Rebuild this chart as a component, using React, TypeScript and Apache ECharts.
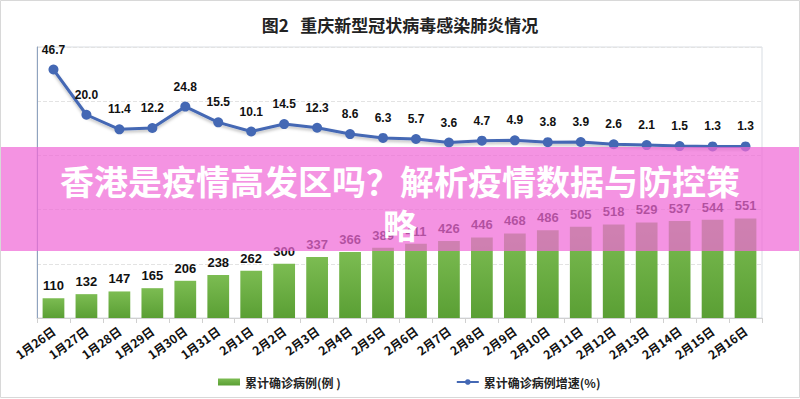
import React, { useEffect, useRef } from "react";
import * as echarts from "echarts";

const categories = [
  "1月26日", "1月27日", "1月28日", "1月29日", "1月30日", "1月31日",
  "2月1日", "2月2日", "2月3日", "2月4日", "2月5日", "2月6日", "2月7日", "2月8日",
  "2月9日", "2月10日", "2月11日", "2月12日", "2月13日", "2月14日", "2月15日", "2月16日",
];
const cumulativeCases = [110, 132, 147, 165, 206, 238, 262, 300, 337, 366, 389, 411, 426, 446, 468, 486, 505, 518, 529, 537, 544, 551];
const growthRate = [46.7, 20.0, 11.4, 12.2, 24.8, 15.5, 10.1, 14.5, 12.3, 8.6, 6.3, 5.7, 3.6, 4.7, 4.9, 3.8, 3.9, 2.6, 2.1, 1.5, 1.3, 1.3];
const seriesNames = ["累计确诊病例(例 )", "累计确诊病例增速(%)"];
const chartTitle = "图2   重庆新型冠状病毒感染肺炎情况";
const overlayText = "香港是疫情高发区吗？解析疫情数据与防控策\n略";

export default function App() {
  const ref = useRef<HTMLDivElement>(null);
  useEffect(() => {
    document.body.style.margin = "0";
    const chart = echarts.init(ref.current!, null, { renderer: "svg" });
    const font = "'Liberation Sans', 'Noto Sans CJK SC', sans-serif";
    chart.setOption({
      animation: false,
      backgroundColor: "#ffffff",
      textStyle: { fontFamily: font },
      title: {
        text: chartTitle,
        left: "center",
        top: 11,
        textStyle: { fontSize: 17, fontWeight: "bold", color: "#222", fontFamily: "'Noto Sans CJK SC', sans-serif" },
      },
      grid: { left: 37, right: 38, top: 47, bottom: 81, show: true, borderColor: "#d8dde3", borderWidth: 1 },
      legend: {
        bottom: 6,
        left: 213,
        itemGap: 115,
        itemWidth: 22,
        itemHeight: 7,
        textStyle: { fontSize: 12, fontWeight: "bold", color: "#222", fontFamily: "'Noto Sans CJK SC', sans-serif" },
        data: [
          { name: seriesNames[0], icon: "rect" },
          { name: seriesNames[1] },
        ],
      },
      xAxis: {
        type: "category",
        data: categories,
        axisLine: { lineStyle: { color: "#d0d0d0" } },
        axisTick: { show: true, alignWithLabel: false, lineStyle: { color: "#d0d0d0" } },
        axisLabel: { rotate: 36, fontSize: 12, fontWeight: "bold", color: "#111", margin: 11, interval: 0, fontFamily: "'Noto Sans CJK SC', sans-serif" },
      },
      yAxis: [
        {
          type: "value",
          min: 0,
          max: 1500,
          interval: 300,
          axisLabel: { show: false },
          axisLine: { show: true, lineStyle: { color: "#8fa3bf" } },
          axisTick: { show: false },
          splitLine: { lineStyle: { color: "#e3e3e3", type: "dashed" } },
        },
        {
          type: "value",
          min: -100,
          max: 60,
          axisLabel: { show: false },
          axisLine: { show: false },
          axisTick: { show: false },
          splitLine: { show: false },
        },
      ],
      series: [
        {
          name: seriesNames[0],
          type: "bar",
          data: cumulativeCases,
          barWidth: "66%",
          itemStyle: {
            color: new echarts.graphic.LinearGradient(0, 0, 0, 1, [
              { offset: 0, color: "#7cbc52" },
              { offset: 1, color: "#5a9f34" },
            ]),
          },
          label: { show: true, position: "top", fontSize: 13, fontWeight: "bold", color: "#111", distance: 6 },
        },
        {
          name: seriesNames[1],
          type: "line",
          yAxisIndex: 1,
          data: growthRate,
          symbol: "circle",
          symbolSize: 10,
          lineStyle: { color: "#4468b4", width: 3, shadowColor: "rgba(0,0,0,0.25)", shadowBlur: 3, shadowOffsetY: 2 },
          itemStyle: { color: "#4468b4" },
          label: {
            show: true,
            position: "top",
            fontSize: 12,
            fontWeight: "bold",
            color: "#111",
            distance: 9,
            formatter: (p: any) => Number(p.value).toFixed(1),
          },
        },
      ],
      graphic: [
        {
          type: "rect",
          z: 100,
          shape: { x: 0, y: 147, width: 800, height: 104 },
          style: { fill: "rgba(240,105,215,0.72)" },
        },
        {
          type: "text",
          z: 101,
          x: 400,
          y: 158,
          style: {
            text: overlayText,
            fill: "#ffffff",
            font: "bold 34px 'Noto Sans CJK SC', sans-serif",
            textAlign: "center",
            lineHeight: 44,
          },
        },
        {
          type: "rect",
          z: 102,
          shape: { x: 0.5, y: 0.5, width: 799, height: 397 },
          style: { fill: "none", stroke: "#d8d8d8", lineWidth: 1 },
        },
      ],
    });
    return () => chart.dispose();
  }, []);
  return <div ref={ref} style={{ width: 800, height: 399 }} />;
}
